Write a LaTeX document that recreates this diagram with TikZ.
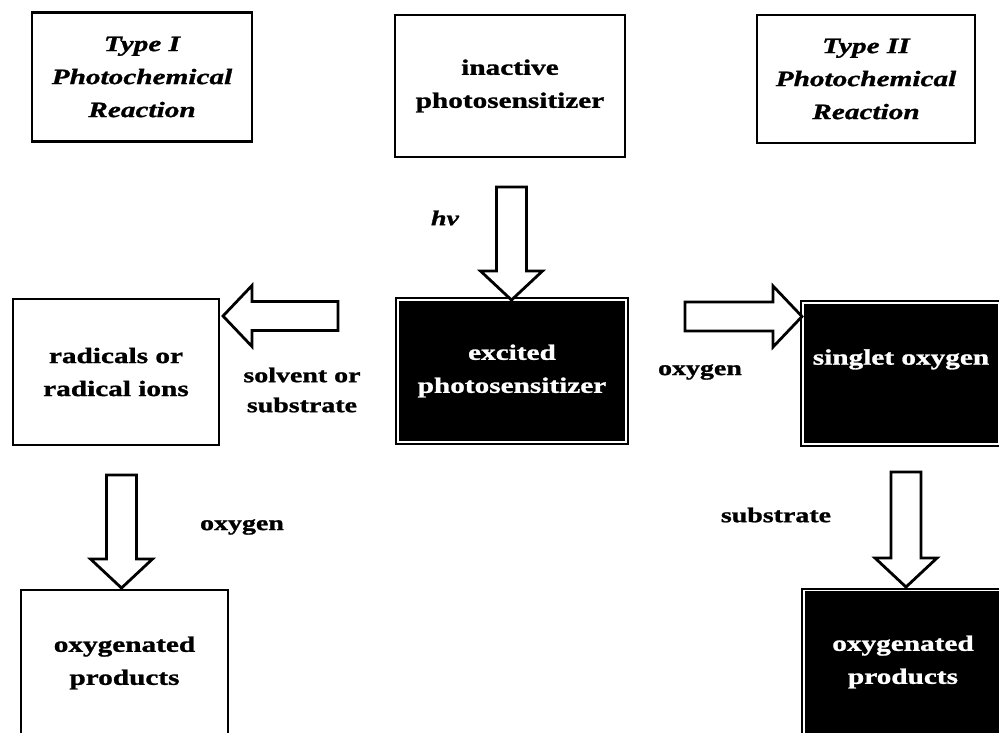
\documentclass[tikz,border=0pt]{standalone}
\usepackage{fontspec}
\setmainfont[FakeStretch=1.33, BoldFeatures={FakeBold=1.2}, BoldItalicFeatures={FakeBold=1.2}]{Liberation Serif}
\tikzset{
  boxtext/.style={font=\fontsize{22}{33}\selectfont\bfseries},
  labtext/.style={font=\fontsize{21}{30}\selectfont\bfseries, inner sep=0pt, align=center},
  wbox/.style={draw=black, line width=2.8pt, fill=white, inner sep=0pt, align=center, boxtext},
  bbox/.style={draw=black, fill=black, line width=2pt, double=white, double distance=1.4pt,
               inner sep=0pt, align=center, boxtext, text=white},
  barrow/.style={draw=black, line width=2.8pt, fill=white, line join=miter}
}
% vertical block arrow: x centre, y top, y tip
\newcommand\varr[3]{%
  \draw[barrow] ({#1-15},{#2}) -- ({#1+15},{#2}) -- ({#1+15},{#3-29}) -- ({#1+31},{#3-29})
    -- ({#1},{#3}) -- ({#1-31},{#3-29}) -- ({#1-15},{#3-29}) -- cycle;}
% horizontal block arrow: y centre, x start, x tip
\newcommand\harr[3]{%
  \pgfmathsetmacro\hd{(#3>#2)?-29:29}%
  \draw[barrow] ({#2},{#1-14.5}) -- ({#3+\hd},{#1-14.5}) -- ({#3+\hd},{#1-30.5}) -- ({#3},{#1})
    -- ({#3+\hd},{#1+30.5}) -- ({#3+\hd},{#1+14.5}) -- ({#2},{#1+14.5}) -- cycle;}
\begin{document}
\begin{tikzpicture}[x=1pt,y=-1pt]
\useasboundingbox[fill=white] (0,0) rectangle (999,732);

% white boxes
\node[wbox, minimum width=220pt, minimum height=129pt] (type1) at (142,77)
  {\itshape Type I\\\itshape Photochemical\\\itshape Reaction};
\node[wbox, minimum width=230pt, minimum height=142pt] (inact) at (510,86)
  {inactive\\photosensitizer};
\node[wbox, minimum width=218pt, minimum height=128pt] (type2) at (866,79)
  {\itshape Type II\\\itshape Photochemical\\\itshape Reaction};
\node[wbox, minimum width=206pt, minimum height=146pt] (rad) at (116,372)
  {radicals or\\radical ions};
\node[wbox, minimum width=207pt, minimum height=146pt] (oxyl) at (124.5,663)
  {oxygenated\\products};

% black boxes
\node[bbox, minimum width=228pt, minimum height=142pt] (exc) at (512,371)
  {excited\\photosensitizer};
\node[bbox, minimum width=196pt, minimum height=141pt] (sing) at (901,373.5)
  {singlet oxygen\\\mbox{}};
\node[bbox, minimum width=198pt, minimum height=143pt] (oxyr) at (903,662)
  {oxygenated\\products};

% labels
\node[labtext] (hv) at (445,218) {\itshape hv};
\node[labtext] (solv) at (302,390) {solvent or\\substrate};
\node[labtext] (oxa) at (700,372) {oxygen};
\node[labtext] (oxb) at (242,527) {oxygen};
\node[labtext] (subs) at (776,515) {substrate};

% block arrows
\varr{511.5}{187}{300}
\harr{316}{338}{223}
\harr{316.5}{685}{802}
\varr{121.5}{475}{588}
\varr{906}{472}{587}
\end{tikzpicture}
\end{document}
